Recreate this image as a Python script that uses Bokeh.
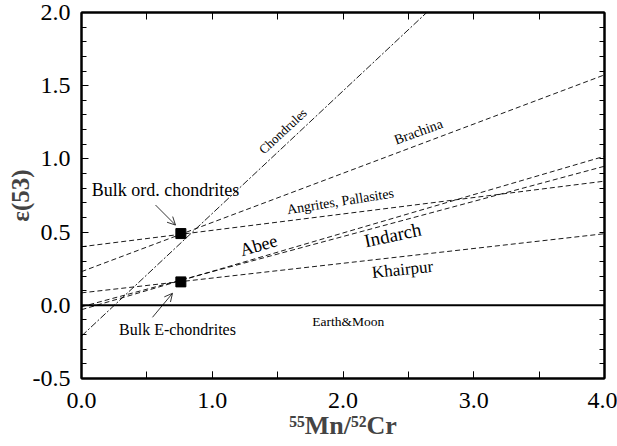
from bokeh.plotting import figure
from bokeh.models import (LinearAxis, FixedTicker, Range1d, Arrow, OpenHead,
                          ColumnDataSource, Span)
from bokeh.core.properties import value
from bokeh.embed import file_html
from bokeh.resources import INLINE
import numpy as np

# ---- data ----
line_names = ["Chondrules", "Brachina", "Angrites, Pallasites", "Abee", "Indarch", "Khairpur"]
intercepts = [-0.21, 0.23, 0.40, -0.03, -0.01, 0.085]
slopes = [0.837, 0.336, 0.112, 0.262, 0.240, 0.101]

point_names = ["Bulk ord. chondrites", "Bulk E-chondrites"]
point_x = [0.76, 0.76]
point_y = [0.49, 0.16]

x_major = [0.0, 1.0, 2.0, 3.0, 4.0]
x_labels = ["0.0", "1.0", "2.0", "3.0", "4.0"]
x_half = [0.0, 0.5, 1.0, 1.5, 2.0, 2.5, 3.0, 3.5, 4.0]
y_major = [-0.5, 0.0, 0.5, 1.0, 1.5, 2.0]
y_labels = ["-0.5", "0.0", "0.5", "1.0", "1.5", "2.0"]
y_minor = [-0.5, -0.4, -0.3, -0.2, -0.1, 0.0, 0.1, 0.2, 0.3, 0.4, 0.5, 0.6, 0.7, 0.8, 0.9,
           1.0, 1.1, 1.2, 1.3, 1.4, 1.5, 1.6, 1.7, 1.8, 1.9, 2.0]

# label annotations (text, x, y, angle deg, size px)
ann_text = ["Chondrules", "Brachina", "Angrites, Pallasites", "Abee", "Indarch", "Khairpur", "Earth&Moon",
            "Bulk ord. chondrites", "Bulk E-chondrites"]
ann_x = [1.54, 2.577, 1.98, 1.354, 2.38, 2.455, 2.04, 0.642, 0.734]
ann_y = [1.19, 1.185, 0.71, 0.41, 0.48, 0.245, -0.11, 0.788, -0.164]
ann_angle = [43, 20, 9, 16, 12, 6, 0, 0, 0]
ann_size = ["13px", "14px", "14px", "18px", "19px", "17px", "13.5px", "18px", "16px"]

SERIF = "Liberation Serif"

p = figure(width=617, height=446, output_backend="svg", toolbar_location=None,
           x_range=Range1d(0, 4), y_range=Range1d(-0.5, 2.0),
           min_border_left=81, min_border_right=13, min_border_top=12, min_border_bottom=68)
p.background_fill_color = "white"
p.border_fill_color = "white"
p.grid.visible = False
p.outline_line_color = "black"
p.outline_line_width = 2

# lines
xs = np.array([0.0, 4.0])
for name, b, m in zip(line_names, intercepts, slopes):
    dash = "7 2 2 2" if name == "Chondrules" else "5 3"
    p.line(xs, b + m * xs, line_color="black", line_width=0.9, line_dash=dash)

# Earth & Moon line
p.add_layout(Span(location=0.0, dimension="width", line_color="black", line_width=2))

# points
p.scatter(point_x, point_y, marker="square", size=10, color="black")

# annotations
src = ColumnDataSource(dict(x=ann_x, y=ann_y, text=ann_text,
                            angle=[np.deg2rad(a) for a in ann_angle], size=ann_size))
p.text(x="x", y="y", text="text", angle="angle", text_font_size="size", source=src,
       text_font=value(SERIF), text_align="center", text_baseline="middle", text_color="black")

# arrows
p.add_layout(Arrow(end=OpenHead(size=8, line_width=0.8, line_color="black"),
                   x_start=0.566, y_start=0.685, x_end=0.719, y_end=0.548,
                   line_width=0.8, line_color="black"))
p.add_layout(Arrow(end=OpenHead(size=8, line_width=0.8, line_color="black"),
                   x_start=0.543, y_start=-0.082, x_end=0.696, y_end=0.082,
                   line_width=0.8, line_color="black"))

# axes styling
def style(ax):
    ax.axis_line_width = 2
    ax.axis_line_color = "black"
    ax.major_tick_in = 7
    ax.major_tick_out = 0
    ax.minor_tick_in = 5
    ax.minor_tick_out = 0
    ax.major_tick_line_color = "black"
    ax.minor_tick_line_color = "black"
    ax.major_label_text_font = SERIF
    ax.major_label_text_font_size = "24px"
    ax.major_label_text_color = "black"

xax = p.xaxis[0]
xax.ticker = FixedTicker(ticks=x_major, minor_ticks=x_half)
xax.major_label_overrides = {t: l for t, l in zip(x_major, x_labels)}
style(xax)
xax.minor_tick_in = 7
xax.major_label_standoff = 14
xax.axis_label = "⁵⁵Mn/⁵²Cr"
xax.axis_label_text_font = SERIF
xax.axis_label_text_font_style = "bold"
xax.axis_label_text_font_size = "26px"
xax.axis_label_standoff = 0

yax = p.yaxis[0]
yax.ticker = FixedTicker(ticks=y_major, minor_ticks=y_minor)
yax.major_label_overrides = {t: l for t, l in zip(y_major, y_labels)}
style(yax)
yax.major_label_standoff = 11
yax.axis_label = "ε(53)"
yax.axis_label_text_font = SERIF
yax.axis_label_text_font_style = "bold"
yax.axis_label_text_font_size = "25px"
yax.axis_label_standoff = -4

# top and right axes: ticks only (all as minor ticks so that no labels are drawn)
top = LinearAxis(ticker=FixedTicker(ticks=[], minor_ticks=x_half))
style(top)
top.minor_tick_in = 7
p.add_layout(top, "above")

right = LinearAxis(ticker=FixedTicker(ticks=[], minor_ticks=y_minor))
style(right)
right.minor_tick_in = 5
p.add_layout(right, "right")

open("out.html", "w").write(file_html(p, INLINE))
